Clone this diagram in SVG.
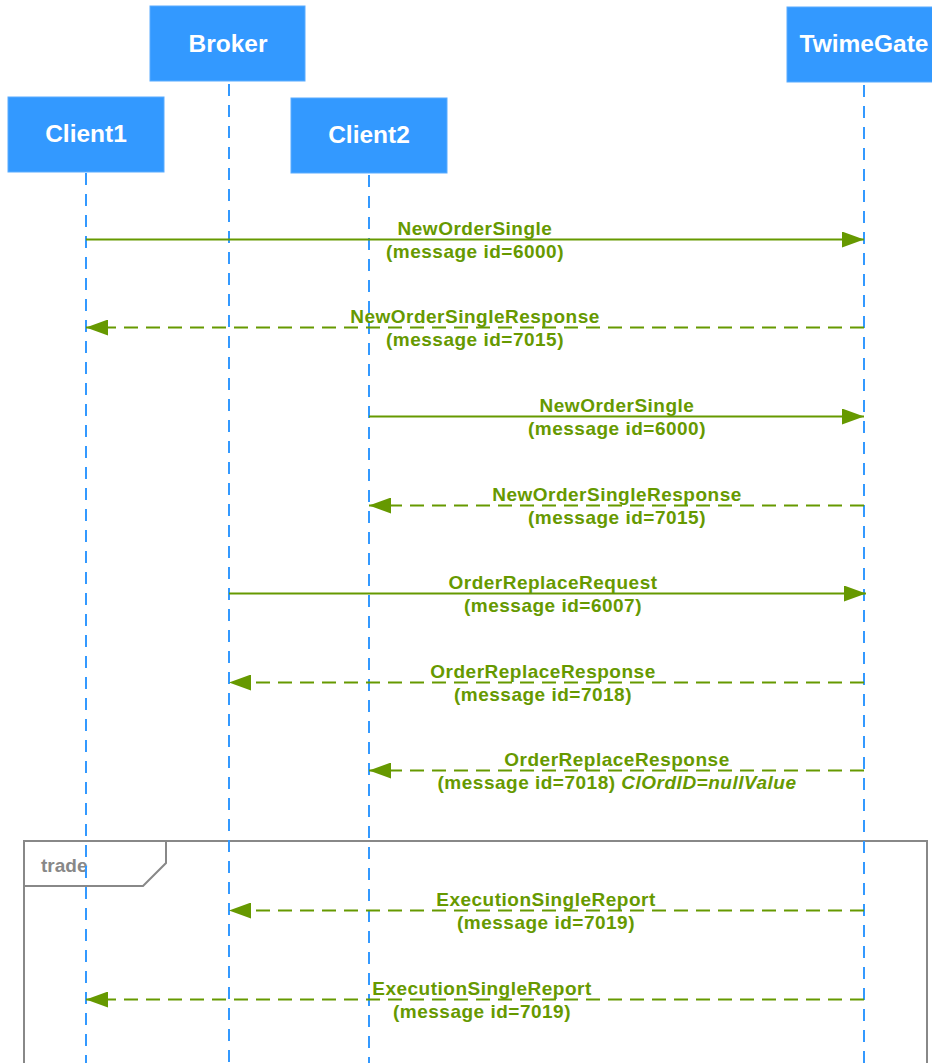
<svg xmlns="http://www.w3.org/2000/svg" width="932" height="1063" viewBox="0 0 932 1063">
<style>
.box{fill:#3399ff;stroke:#5aacff;stroke-width:1}
.hdr{font-family:"Liberation Sans",Arial,sans-serif;font-weight:bold;font-size:24.5px;fill:#ffffff;text-anchor:middle}
.life{stroke:#3399ff;stroke-width:2;stroke-dasharray:12 9;fill:none}
.msg{stroke:#669900;stroke-width:2;fill:none;marker-end:url(#ah)}
.dash{stroke-dasharray:14 8}
.lbl{font-family:"Liberation Sans",Arial,sans-serif;font-weight:bold;font-size:19px;letter-spacing:0.5px;fill:#669900;text-anchor:middle}
.frame{stroke:#888888;stroke-width:2;fill:none}
.ftxt{font-family:"Liberation Sans",Arial,sans-serif;font-weight:bold;font-size:19px;fill:#888888}
</style>
<defs>
<marker id="ah" markerUnits="userSpaceOnUse" markerWidth="22" markerHeight="16" refX="22" refY="8" orient="auto">
<path d="M0,0 L22,8 L0,16 z" fill="#669900"/>
</marker>
</defs>
<rect width="932" height="1063" fill="#ffffff"/>
<g id="frame-trade">
<path class="frame" d="M24,1070 L24,841 L927,841 L927,1070"/>
<path class="frame" d="M24,886 L143,886 L166,863 L166,841"/>
<text class="ftxt" x="41" y="872">trade</text>
</g>
<g id="lifelines">
<line class="life" x1="86" y1="173" x2="86" y2="1063"/>
<line class="life" x1="229" y1="84" x2="229" y2="1063"/>
<line class="life" x1="369" y1="175" x2="369" y2="1063"/>
<line class="life" x1="864" y1="85" x2="864" y2="1063"/>
</g>
<g id="node-broker">
<rect class="box" x="150" y="6" width="155" height="75"/>
<text class="hdr" x="228" y="52">Broker</text>
</g>
<g id="node-client1">
<rect class="box" x="8" y="97" width="156" height="75"/>
<text class="hdr" x="86" y="142">Client1</text>
</g>
<g id="node-client2">
<rect class="box" x="291" y="98" width="156" height="75"/>
<text class="hdr" x="369" y="143">Client2</text>
</g>
<g id="node-twimegate">
<rect class="box" x="787" y="7" width="155" height="75"/>
<text class="hdr" x="864" y="52">TwimeGate</text>
</g>
<g id="connectors">
<line class="msg" x1="86" y1="239.5" x2="864" y2="239.5"/>
<line class="msg dash" x1="864" y1="327.5" x2="86" y2="327.5"/>
<line class="msg" x1="369" y1="416.5" x2="864" y2="416.5"/>
<line class="msg dash" x1="864" y1="505.5" x2="369" y2="505.5"/>
<line class="msg" x1="229" y1="593.5" x2="866" y2="593.5"/>
<line class="msg dash" x1="864" y1="682.5" x2="229" y2="682.5"/>
<line class="msg dash" x1="864" y1="770.5" x2="369" y2="770.5"/>
<line class="msg dash" x1="864" y1="910.5" x2="229" y2="910.5"/>
<line class="msg dash" x1="864" y1="999.5" x2="86" y2="999.5"/>
</g>
<g id="labels">
<text class="lbl" x="475" y="235">NewOrderSingle</text>
<text class="lbl" x="475" y="258">(message id=6000)</text>
<text class="lbl" x="475" y="323">NewOrderSingleResponse</text>
<text class="lbl" x="475" y="346">(message id=7015)</text>
<text class="lbl" x="617" y="412">NewOrderSingle</text>
<text class="lbl" x="617" y="435">(message id=6000)</text>
<text class="lbl" x="617" y="501">NewOrderSingleResponse</text>
<text class="lbl" x="617" y="524">(message id=7015)</text>
<text class="lbl" x="553" y="589">OrderReplaceRequest</text>
<text class="lbl" x="553" y="612">(message id=6007)</text>
<text class="lbl" x="543" y="678">OrderReplaceResponse</text>
<text class="lbl" x="543" y="701">(message id=7018)</text>
<text class="lbl" x="617" y="766">OrderReplaceResponse</text>
<text class="lbl" x="617" y="789">(message id=7018) <tspan font-style="italic">ClOrdID=nullValue</tspan></text>
<text class="lbl" x="546" y="906">ExecutionSingleReport</text>
<text class="lbl" x="546" y="929">(message id=7019)</text>
<text class="lbl" x="482" y="995">ExecutionSingleReport</text>
<text class="lbl" x="482" y="1018">(message id=7019)</text>
</g>
</svg>
